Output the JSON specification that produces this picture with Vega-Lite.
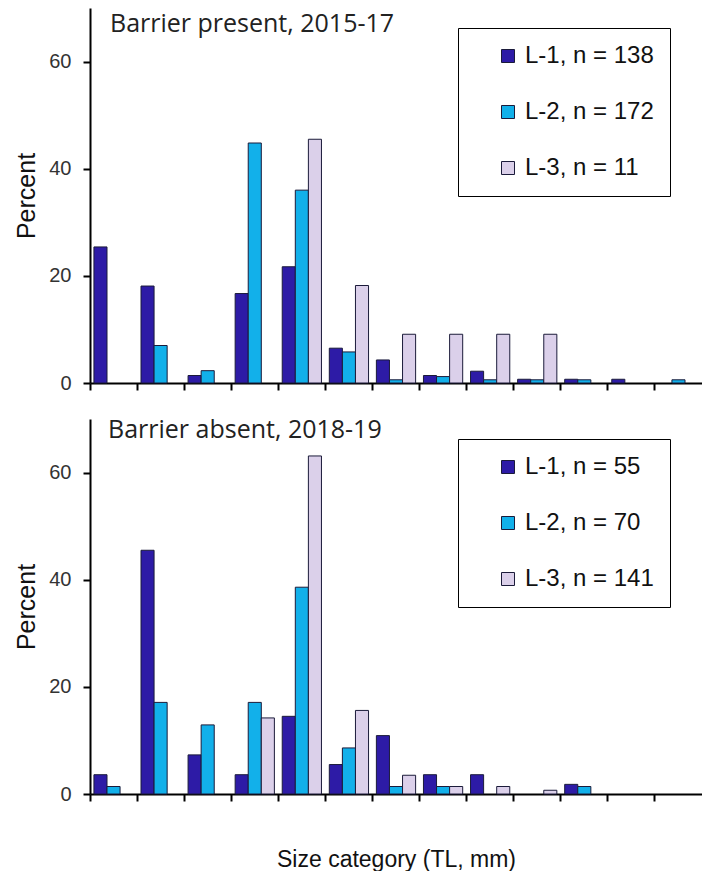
{
  "$schema": "https://vega.github.io/schema/vega-lite/v6.json",
  "padding": {"left": 14, "top": 8, "right": 0, "bottom": 0},
  "spacing": 25,
  "background": "white",
  "config": {
    "view": {"stroke": null},
    "axis": {
      "grid": false,
      "domainColor": "#000",
      "domainWidth": 2,
      "tickColor": "#000",
      "tickWidth": 2,
      "tickSize": 7,
      "labelFont": "Liberation Sans",
      "labelFontSize": 20,
      "labelColor": "#333",
      "titleFont": "Liberation Sans",
      "titleFontWeight": "normal",
      "titleColor": "#111"
    },
    "legend": {
      "orient": "none",
      "legendX": 368,
      "legendY": 20,
      "strokeColor": "#000",
      "fillColor": "#fff",
      "padding": 16,
      "symbolOffset": 22,
      "symbolType": "square",
      "symbolSize": 169,
      "symbolStrokeColor": "#1b1b3a",
      "symbolStrokeWidth": 1,
      "labelFont": "Liberation Sans",
      "labelFontSize": 24,
      "labelColor": "#111",
      "labelOffset": 5,
      "rowPadding": 32,
      "labelLimit": 400
    }
  },
  "resolve": {"scale": {"color": "independent"}, "legend": {"color": "independent"}},
  "vconcat": [
    {
      "width": 612,
      "height": 375,
      "layer": [
        {
          "data": {"values": [
            {"cat": 1, "series": "L-1", "label": "L-1, n = 138", "pct": 25.4},
            {"cat": 2, "series": "L-1", "label": "L-1, n = 138", "pct": 18.1},
            {"cat": 3, "series": "L-1", "label": "L-1, n = 138", "pct": 1.4},
            {"cat": 4, "series": "L-1", "label": "L-1, n = 138", "pct": 16.7},
            {"cat": 5, "series": "L-1", "label": "L-1, n = 138", "pct": 21.7},
            {"cat": 6, "series": "L-1", "label": "L-1, n = 138", "pct": 6.5},
            {"cat": 7, "series": "L-1", "label": "L-1, n = 138", "pct": 4.3},
            {"cat": 8, "series": "L-1", "label": "L-1, n = 138", "pct": 1.4},
            {"cat": 9, "series": "L-1", "label": "L-1, n = 138", "pct": 2.2},
            {"cat": 10, "series": "L-1", "label": "L-1, n = 138", "pct": 0.7},
            {"cat": 11, "series": "L-1", "label": "L-1, n = 138", "pct": 0.7},
            {"cat": 12, "series": "L-1", "label": "L-1, n = 138", "pct": 0.7},
            {"cat": 2, "series": "L-2", "label": "L-2, n = 172", "pct": 7.0},
            {"cat": 3, "series": "L-2", "label": "L-2, n = 172", "pct": 2.3},
            {"cat": 4, "series": "L-2", "label": "L-2, n = 172", "pct": 44.8},
            {"cat": 5, "series": "L-2", "label": "L-2, n = 172", "pct": 36.0},
            {"cat": 6, "series": "L-2", "label": "L-2, n = 172", "pct": 5.8},
            {"cat": 7, "series": "L-2", "label": "L-2, n = 172", "pct": 0.6},
            {"cat": 8, "series": "L-2", "label": "L-2, n = 172", "pct": 1.2},
            {"cat": 9, "series": "L-2", "label": "L-2, n = 172", "pct": 0.6},
            {"cat": 10, "series": "L-2", "label": "L-2, n = 172", "pct": 0.6},
            {"cat": 11, "series": "L-2", "label": "L-2, n = 172", "pct": 0.6},
            {"cat": 13, "series": "L-2", "label": "L-2, n = 172", "pct": 0.6},
            {"cat": 5, "series": "L-3", "label": "L-3, n = 11", "pct": 45.5},
            {"cat": 6, "series": "L-3", "label": "L-3, n = 11", "pct": 18.2},
            {"cat": 7, "series": "L-3", "label": "L-3, n = 11", "pct": 9.1},
            {"cat": 8, "series": "L-3", "label": "L-3, n = 11", "pct": 9.1},
            {"cat": 9, "series": "L-3", "label": "L-3, n = 11", "pct": 9.1},
            {"cat": 10, "series": "L-3", "label": "L-3, n = 11", "pct": 9.1}
          ]},
          "mark": {"type": "bar", "stroke": "#1b1b3a", "strokeWidth": 1},
          "encoding": {
            "x": {"field": "cat", "type": "ordinal", "scale": {"domain": [1,2,3,4,5,6,7,8,9,10,11,12,13], "paddingInner": 0, "paddingOuter": 0}, "axis": {"labels": false, "title": null, "bandPosition": 0}},
            "xOffset": {"field": "series", "scale": {"domain": ["L-1", "L-2", "L-3"], "paddingInner": 0, "paddingOuter": 0.3}},
            "y": {"field": "pct", "type": "quantitative", "scale": {"domain": [0, 70]}, "axis": {"values": [0, 20, 40, 60], "title": "Percent", "titleFontSize": 25, "titlePadding": 9, "labelPadding": 12}},
            "color": {"field": "label", "type": "nominal", "scale": {"domain": ["L-1, n = 138", "L-2, n = 172", "L-3, n = 11"], "range": ["#2d1ba6", "#12b0ea", "#dbd0ea"]}, "legend": {"title": null, "labelExpr": "datum.label + '\u2003\u2002'"}}
          }
        },
        {
          "data": {"values": [{"t": "Barrier present, 2015-17"}]},
          "mark": {"type": "text", "align": "left", "baseline": "alphabetic", "dx": 20, "font": "Open Sans", "fontSize": 25, "color": "#222"},
          "encoding": {
            "text": {"field": "t"},
            "x": {"datum": 1, "type": "ordinal", "bandPosition": 0},
            "y": {"datum": 65.6, "type": "quantitative"}
          }
        }
      ]
    },
    {
      "width": 612,
      "height": 375,
      "layer": [
        {
          "data": {"values": [
            {"cat": 1, "series": "L-1", "label": "L-1, n = 55", "pct": 3.6},
            {"cat": 2, "series": "L-1", "label": "L-1, n = 55", "pct": 45.5},
            {"cat": 3, "series": "L-1", "label": "L-1, n = 55", "pct": 7.3},
            {"cat": 4, "series": "L-1", "label": "L-1, n = 55", "pct": 3.6},
            {"cat": 5, "series": "L-1", "label": "L-1, n = 55", "pct": 14.5},
            {"cat": 6, "series": "L-1", "label": "L-1, n = 55", "pct": 5.5},
            {"cat": 7, "series": "L-1", "label": "L-1, n = 55", "pct": 10.9},
            {"cat": 8, "series": "L-1", "label": "L-1, n = 55", "pct": 3.6},
            {"cat": 9, "series": "L-1", "label": "L-1, n = 55", "pct": 3.6},
            {"cat": 11, "series": "L-1", "label": "L-1, n = 55", "pct": 1.8},
            {"cat": 1, "series": "L-2", "label": "L-2, n = 70", "pct": 1.4},
            {"cat": 2, "series": "L-2", "label": "L-2, n = 70", "pct": 17.1},
            {"cat": 3, "series": "L-2", "label": "L-2, n = 70", "pct": 12.9},
            {"cat": 4, "series": "L-2", "label": "L-2, n = 70", "pct": 17.1},
            {"cat": 5, "series": "L-2", "label": "L-2, n = 70", "pct": 38.6},
            {"cat": 6, "series": "L-2", "label": "L-2, n = 70", "pct": 8.6},
            {"cat": 7, "series": "L-2", "label": "L-2, n = 70", "pct": 1.4},
            {"cat": 8, "series": "L-2", "label": "L-2, n = 70", "pct": 1.4},
            {"cat": 11, "series": "L-2", "label": "L-2, n = 70", "pct": 1.4},
            {"cat": 4, "series": "L-3", "label": "L-3, n = 141", "pct": 14.2},
            {"cat": 5, "series": "L-3", "label": "L-3, n = 141", "pct": 63.1},
            {"cat": 6, "series": "L-3", "label": "L-3, n = 141", "pct": 15.6},
            {"cat": 7, "series": "L-3", "label": "L-3, n = 141", "pct": 3.5},
            {"cat": 8, "series": "L-3", "label": "L-3, n = 141", "pct": 1.4},
            {"cat": 9, "series": "L-3", "label": "L-3, n = 141", "pct": 1.4},
            {"cat": 10, "series": "L-3", "label": "L-3, n = 141", "pct": 0.7}
          ]},
          "mark": {"type": "bar", "stroke": "#1b1b3a", "strokeWidth": 1},
          "encoding": {
            "x": {"field": "cat", "type": "ordinal", "scale": {"domain": [1,2,3,4,5,6,7,8,9,10,11,12,13], "paddingInner": 0, "paddingOuter": 0}, "axis": {"labels": false, "title": "Size category (TL, mm)", "titleFontSize": 23, "titlePadding": 46, "bandPosition": 0}},
            "xOffset": {"field": "series", "scale": {"domain": ["L-1", "L-2", "L-3"], "paddingInner": 0, "paddingOuter": 0.3}},
            "y": {"field": "pct", "type": "quantitative", "scale": {"domain": [0, 70]}, "axis": {"values": [0, 20, 40, 60], "title": "Percent", "titleFontSize": 25, "titlePadding": 9, "labelPadding": 12}},
            "color": {"field": "label", "type": "nominal", "scale": {"domain": ["L-1, n = 55", "L-2, n = 70", "L-3, n = 141"], "range": ["#2d1ba6", "#12b0ea", "#dbd0ea"]}, "legend": {"title": null, "labelExpr": "datum.label + '\u2003\u2002'"}}
          }
        },
        {
          "data": {"values": [{"t": "Barrier absent, 2018-19"}]},
          "mark": {"type": "text", "align": "left", "baseline": "alphabetic", "dx": 18, "font": "Open Sans", "fontSize": 25, "color": "#222"},
          "encoding": {
            "text": {"field": "t"},
            "x": {"datum": 1, "type": "ordinal", "bandPosition": 0},
            "y": {"datum": 66.4, "type": "quantitative"}
          }
        }
      ]
    }
  ]
}
